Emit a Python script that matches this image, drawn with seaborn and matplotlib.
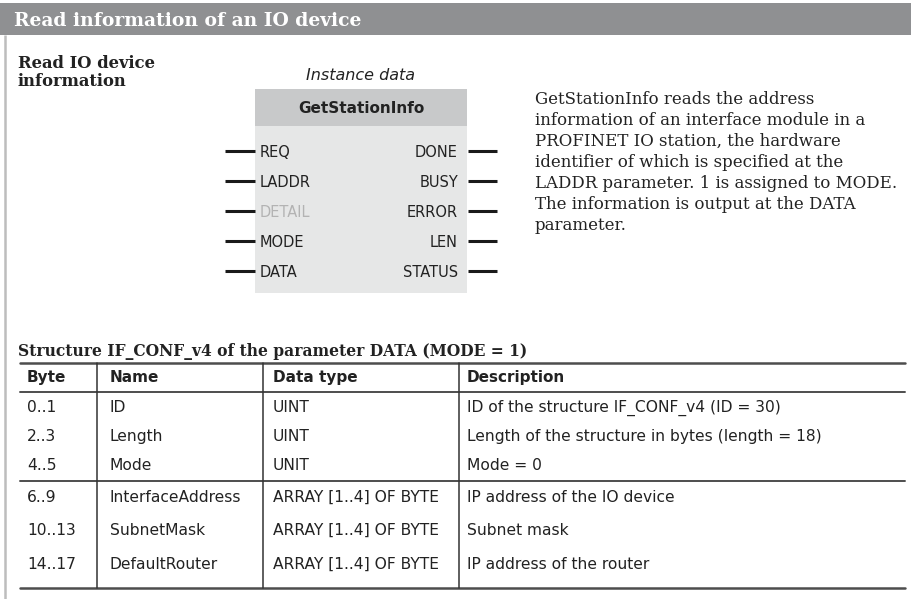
import matplotlib
matplotlib.use("Agg")
import matplotlib.pyplot as plt
import seaborn as sns
from matplotlib.patches import Rectangle

title = "Read information of an IO device"
side_heading = "Read IO device\ninformation"
instance_label = "Instance data"
block_name = "GetStationInfo"
inputs = ["REQ", "LADDR", "DETAIL", "MODE", "DATA"]
outputs = ["DONE", "BUSY", "ERROR", "LEN", "STATUS"]
inactive = ["DETAIL"]
description = [
    "GetStationInfo reads the address",
    "information of an interface module in a",
    "PROFINET IO station, the hardware",
    "identifier of which is specified at the",
    "LADDR parameter. 1 is assigned to MODE.",
    "The information is output at the DATA",
    "parameter.",
]

table_title = "Structure IF_CONF_v4 of the parameter DATA (MODE = 1)"
columns = ["Byte", "Name", "Data type", "Description"]
byte_col = ["0..1", "2..3", "4..5", "6..9", "10..13", "14..17"]
name_col = ["ID", "Length", "Mode", "InterfaceAddress", "SubnetMask", "DefaultRouter"]
type_col = ["UINT", "UINT", "UNIT", "ARRAY [1..4] OF BYTE", "ARRAY [1..4] OF BYTE",
            "ARRAY [1..4] OF BYTE"]
desc_col = ["ID of the structure IF_CONF_v4 (ID = 30)",
            "Length of the structure in bytes (length = 18)",
            "Mode = 0",
            "IP address of the IO device",
            "Subnet mask",
            "IP address of the router"]

sns.set_theme(style="white")
serif = "DejaVu Serif"
sans = "DejaVu Sans"
ink = "#222222"
mid = "center_baseline"

fig = plt.figure(figsize=(9.12, 5.99), dpi=100)
ax = fig.add_axes([0, 0, 1, 1])
ax.set_xlim(0, 912)
ax.set_ylim(599, 0)
ax.axis("off")

# header bar and left frame line
ax.add_patch(Rectangle((0, 3), 912, 32, color="#8f9092", lw=0))
ax.text(14, 19, title, color="white", fontsize=13.5, fontweight="bold",
        family=serif, va=mid)
ax.plot([5, 5], [35, 599], color="#bdbdbd", lw=1.8, solid_capstyle="butt")
for k, line in enumerate(side_heading.split("\n")):
    ax.text(18, 61 + k * 19, line, color=ink, fontsize=11.8,
            fontweight="bold", family=serif, va=mid)

# function block
bx0, bx1 = 255, 467
ax.add_patch(Rectangle((bx0, 89), bx1 - bx0, 37, color="#c8c9ca", lw=0))
ax.add_patch(Rectangle((bx0, 126), bx1 - bx0, 167, color="#e6e7e7", lw=0))
ax.text((bx0 + bx1) / 2, 74, instance_label, fontsize=11.5, style="italic",
        family=sans, color=ink, ha="center", va=mid)
ax.text((bx0 + bx1) / 2, 107, block_name, fontsize=11, fontweight="bold",
        family=sans, color=ink, ha="center", va=mid)
for i, (pin_in, pin_out) in enumerate(zip(inputs, outputs)):
    y = 151 + i * 30
    ax.plot([225, bx0], [y, y], color="#1a1a1a", lw=2.2, solid_capstyle="butt")
    ax.plot([bx1 + 1, 497], [y, y], color="#1a1a1a", lw=2.2, solid_capstyle="butt")
    col = "#b3b3b3" if pin_in in inactive else ink
    ax.text(260, y, pin_in, fontsize=10.5, family=sans, color=col, va=mid)
    ax.text(458, y, pin_out, fontsize=10.5, family=sans, color=ink,
            va=mid, ha="right")

for i, line in enumerate(description):
    ax.text(535, 97 + i * 21.1, line, fontsize=12, family=serif, color=ink,
            va=mid)

# table
ax.text(18, 350, table_title, fontsize=11.2, fontweight="bold", family=serif,
        color=ink, va=mid)
tx0, tx1 = 20, 905
col_x = [97, 263, 459]
text_x = [27, 110, 273, 467]
ax.plot([tx0, tx1], [363, 363], color="#4d4d4d", lw=1.8)
ax.plot([tx0, tx1], [392, 392], color="#4d4d4d", lw=1.4)
ax.plot([tx0, tx1], [481, 481], color="#4d4d4d", lw=1.4)
ax.plot([tx0, tx1], [588, 588], color="#4d4d4d", lw=1.8)
for x in col_x:
    ax.plot([x, x], [363, 588], color="#333333", lw=1.1)

for x, name in zip(text_x, columns):
    ax.text(x, 376, name, fontsize=11, fontweight="bold", family=sans,
            color=ink, va=mid)
row_y = [406, 435, 464, 496, 529, 563]
for j, y in enumerate(row_y):
    for x, values in zip(text_x, [byte_col, name_col, type_col, desc_col]):
        ax.text(x, y, values[j], fontsize=11.2, family=sans, color=ink,
                va=mid)

fig.savefig("out.png", dpi=100)
